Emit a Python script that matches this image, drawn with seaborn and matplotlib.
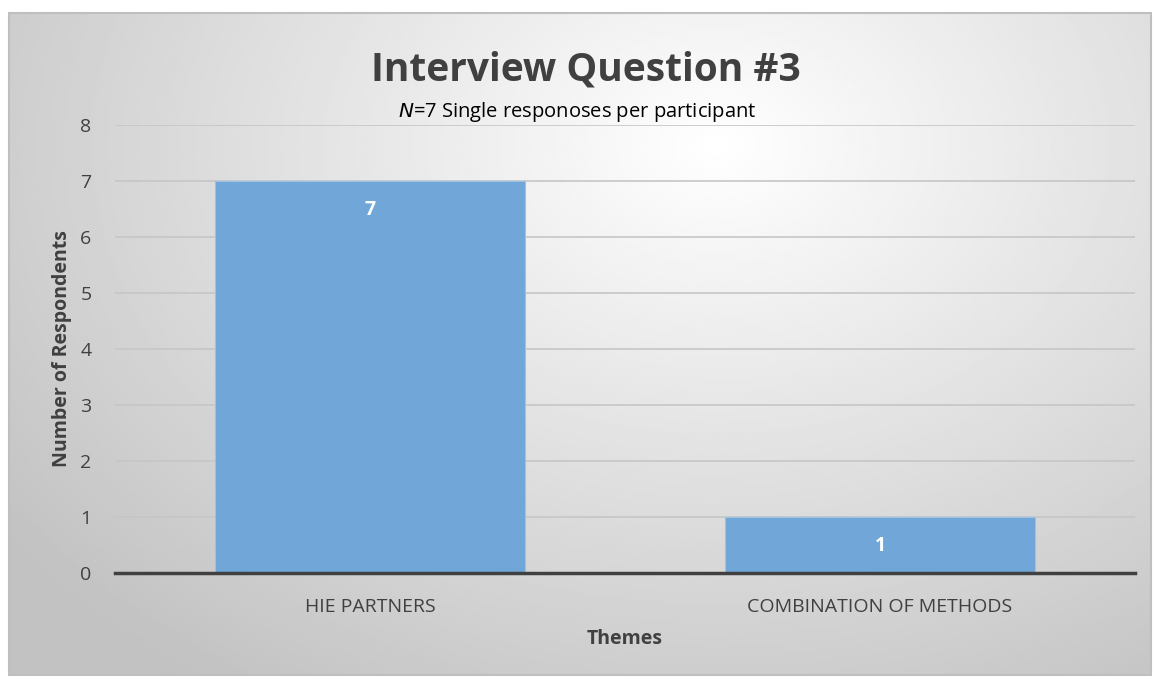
import numpy as np
import pandas as pd
import matplotlib
matplotlib.use("Agg")
import matplotlib.pyplot as plt
import seaborn as sns
from matplotlib.patches import Rectangle

# Data
themes = ["HIE PARTNERS", "COMBINATION OF METHODS"]
respondents = [7, 1]
y_ticks = [0, 1, 2, 3, 4, 5, 6, 7, 8]

df = pd.DataFrame({"theme": themes, "count": respondents})

sns.set_style("white")
plt.rcParams["font.family"] = ["Open Sans", "DejaVu Sans"]

W, H = 1154, 679
fig = plt.figure(figsize=(W / 100, H / 100), dpi=100)

# Gradient background of the chart frame (radial, light near the top centre)
fx0, fx1, fy0, fy1 = 9 / W, 1151 / W, 1 - 675 / H, 1 - 13 / H
bg = fig.add_axes([fx0, fy0, fx1 - fx0, fy1 - fy0], zorder=0)
gx, gy = np.meshgrid(np.linspace(0, 1, 400), np.linspace(0, 1, 240))
r = np.sqrt(((gx - 0.62) / 0.75) ** 2 + ((gy - 0.2) / 0.95) ** 2)
shade = np.clip(1.0 - 0.23 * r, 0.76, 1.0)
bg.imshow(shade, cmap="gray", vmin=0, vmax=1, aspect="auto", extent=[0, 1, 1, 0])
bg.set_axis_off()
bg.add_patch(Rectangle((0, 0), 1, 1, transform=bg.transAxes, fill=False,
                       edgecolor="#bfbfbf", linewidth=1.5, clip_on=False))

ax = fig.add_axes([115 / W, 1 - 573 / H, 1020 / W, (573 - 125) / H], zorder=1)
ax.patch.set_alpha(0)

sns.barplot(data=df, x="theme", y="count", color="#70a6d8", saturation=1,
            width=0.606, edgecolor="#9cc3e6", linewidth=0.8, ax=ax, zorder=3)

ax.set_ylim(0, 8)
ax.set_xlim(-0.5, 1.5)
ax.set_yticks(y_ticks)
ax.yaxis.grid(True, color="#c6c6c6", linewidth=1.2, zorder=0)
ax.set_axisbelow(True)
for s in ["top", "right", "left"]:
    ax.spines[s].set_visible(False)
ax.spines["bottom"].set_color("#404040")
ax.spines["bottom"].set_linewidth(2.5)
ax.spines["bottom"].set_zorder(4)
ax.tick_params(axis="both", length=0, labelsize=14, colors="#404040")
ax.tick_params(axis="y", pad=17)
ax.tick_params(axis="x", pad=18)

ax.set_xlabel("Themes", fontsize=14, fontweight="bold", color="#404040", labelpad=9)
ax.set_ylabel("Number of Respondents", fontsize=14, fontweight="bold", color="#404040", labelpad=6)

for i, v in enumerate(respondents):
    ax.annotate(str(v), (i, v), xytext=(0, -29), textcoords="offset pixels",
                ha="center", va="center", color="white", fontsize=14,
                fontweight="bold", zorder=5)

fig.text(586 / W, 1 - 70 / H, "Interview Question #3", ha="center", va="center",
         fontsize=28, fontweight="bold", color="#404040")
fig.text(577 / W, 1 - 112 / H, r"$\it{N}$=7 Single responoses per participant",
         ha="center", va="center", fontsize=14.5, color="#000000")

fig.savefig("out.png", dpi=100, facecolor="white")
